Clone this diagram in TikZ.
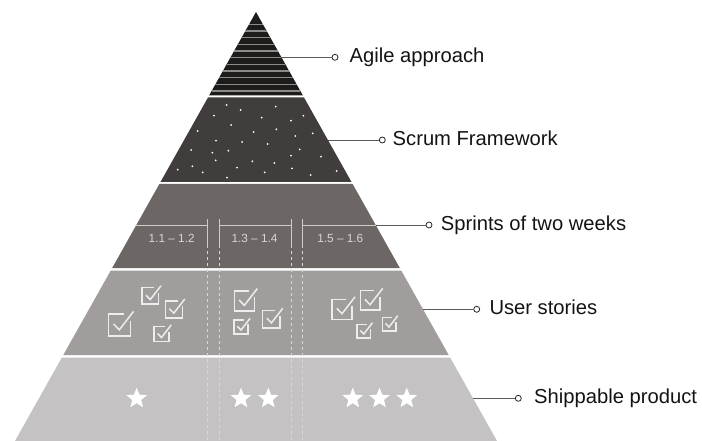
\documentclass[tikz,border=0pt]{standalone}
\usepackage{fontspec}
\setmainfont{Liberation Sans}
\definecolor{layA}{HTML}{1E1C1B}
\definecolor{layB}{HTML}{413D3C}
\definecolor{layC}{HTML}{6C6665}
\definecolor{layD}{HTML}{A19D9C}
\definecolor{layE}{HTML}{C4C2C2}
\definecolor{stripecol}{HTML}{8C8A89}
\definecolor{tickcol}{HTML}{CFCBCB}
\definecolor{dashcol}{HTML}{DAD7D7}
\definecolor{iconcol}{HTML}{EEECEC}
\definecolor{segtext}{HTML}{DAD6D6}
\definecolor{conncol}{HTML}{5A5A5A}
\newcommand\pyrlayer[3]{\fill[#3] ({256-0.5618*(#1-12)},#1) -- ({256+0.5618*(#1-12)},#1) -- ({256+0.5618*(#2-12)},#2) -- ({256-0.5618*(#2-12)},#2) -- cycle;}
\newcommand\chkbox[3]{%
  \draw[iconline] ({#1+0.72*#3},{#2}) -- ({#1},{#2}) -- ({#1},{#2+#3}) -- ({#1+#3},{#2+#3}) -- ({#1+#3},{#2+0.32*#3});
  \draw[iconline] ({#1+0.24*#3},{#2+0.45*#3}) -- ({#1+0.5*#3},{#2+0.72*#3}) -- ({#1+1.15*#3},{#2-0.12*#3});}
\newcommand\stardraw[2]{\fill[white] (#1,#2) +(-90:10.8) -- +(-54:4.7) -- +(-18:10.8) -- +(18:4.7) -- +(54:10.8) -- +(90:4.7) -- +(126:10.8) -- +(162:4.7) -- +(198:10.8) -- +(234:4.7) -- cycle;}
\begin{document}
\begin{tikzpicture}[x=1pt,y=-1pt,
  iconline/.style={draw=iconcol,line width=1.5,line join=miter},
  tickline/.style={draw=tickcol,line width=1},
  dashline/.style={draw=dashcol,line width=0.9,dash pattern=on 3 off 3},
  conn/.style={draw=conncol,line width=0.9},
  enddot/.style={circle,draw=black!85,fill=white,line width=0.8,inner sep=0,minimum size=6},
  lbl/.style={anchor=base west,inner sep=0,font=\fontsize{20.2}{24}\selectfont,text=black!92},
  seg/.style={anchor=base,inner sep=0,font=\fontsize{11.8}{13}\selectfont,text=segtext}]
\useasboundingbox (0,0) rectangle (702,441);
\fill[white] (0,0) rectangle (702,441);
% layers
\pyrlayer{12}{95.5}{layA}
\pyrlayer{97.5}{182}{layB}
\pyrlayer{184}{268}{layC}
\pyrlayer{270.5}{355}{layD}
\pyrlayer{357.5}{441}{layE}
% stripes in the top layer
\foreach \i in {0,...,10}{
  \pgfmathsetmacro\yy{24.3+6.67*\i}
  \draw[stripecol,line width=1.1] ({256-0.5618*(\yy-12)},\yy) -- ({256+0.5618*(\yy-12)},\yy);
}
% dots in the second layer
\foreach \x/\y in {226.7/105,275.7/106.7,240.7/110,214/115.7,303.3/115.7,261.7/117.7,291/120.7,231/125,197.7/131,276.3/129.3,253.7/132,312.7/133.3,295.3/136,216/140.7,242/142,267.7/144,191/150,299.7/149.3,212.3/152.7,228.3/150.7,291/155.7,321/156.7,215.7/160.3,252.3/161.3,274.3/163,237/167.7,292/168.3,177.7/169.7,192.3/166.3,202.7/172.3,264.7/172.3,336.7/171,310.7/175,227/177.7}
  \fill[white] (\x,\y) circle (1);
% sprint lines in the third layer
\draw[tickline] ({256-0.5618*(225-12)},225) -- (207.7,225);
\draw[tickline] (219.3,225) -- (291.7,225);
\draw[tickline] (302.7,225) -- ({256+0.5618*(225-12)},225);
\foreach \x in {207.7,219.3,291.7,302.7}{
  \draw[tickline] (\x,219) -- (\x,248);
  \draw[dashline] (\x,251) -- (\x,441);
}
\node[seg] (s1) at (171.7,242.3) {1.1 – 1.2};
\node[seg] (s2) at (254.5,242.3) {1.3 – 1.4};
\node[seg] (s3) at (340.3,242.3) {1.5 – 1.6};
% checkboxes in the fourth layer
\chkbox{142}{287.7}{16.5}
\chkbox{165.3}{301}{17}
\chkbox{108.3}{314}{22}
\chkbox{154}{326.7}{15}
\chkbox{234.3}{291}{20}
\chkbox{234}{320}{14}
\chkbox{262.7}{310.3}{17.5}
\chkbox{332}{299.3}{20}
\chkbox{360.3}{290.7}{19.5}
\chkbox{357}{324.3}{13.5}
\chkbox{382.3}{317.3}{13.5}
% stars in the bottom layer
\stardraw{136.7}{398.5}
\stardraw{241}{398.5}
\stardraw{268.3}{398.5}
\stardraw{352.8}{398.5}
\stardraw{379.5}{398.5}
\stardraw{406.8}{398.5}
% connectors and labels
\coordinate (e1) at ({256+0.5618*(57.3-12)},57.3);
\coordinate (e2) at ({256+0.5618*(140-12)},140);
\coordinate (e3) at ({256+0.5618*(225-12)},225);
\coordinate (e4) at ({256+0.5618*(309.3-12)},309.3);
\coordinate (e5) at ({256+0.5618*(398.3-12)},398.3);
\node[enddot] (c1) at (335,57.3) {};
\node[enddot] (c2) at (382.3,140) {};
\node[enddot] (c3) at (429,225) {};
\node[enddot] (c4) at (476.7,309.3) {};
\node[enddot] (c5) at (518.3,398.3) {};
\draw[conn] (e1) -- (c1);
\draw[conn] (e2) -- (c2);
\draw[conn] (e3) -- (c3);
\draw[conn] (e4) -- (c4);
\draw[conn] (e5) -- (c5);
\node[lbl] (t1) at (349.5,62.5) {Agile approach};
\node[lbl] (t2) at (392.5,145.3) {Scrum Framework};
\node[lbl] (t3) at (440.7,230.3) {Sprints of two weeks};
\node[lbl] (t4) at (489.3,314.5) {User stories};
\node[lbl] (t5) at (534,403.6) {Shippable product};
\end{tikzpicture}
\end{document}
